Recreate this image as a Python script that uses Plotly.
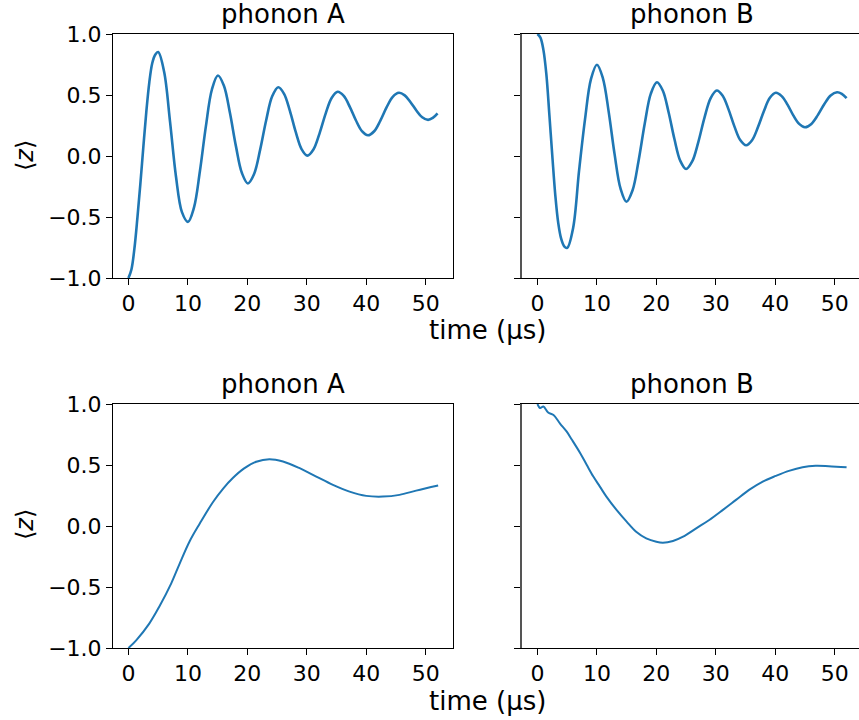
import plotly.graph_objects as go

# ---- data ----
t_top_A = [0, 0.5, 1, 1.5, 2, 2.5, 3, 3.5, 4, 4.5, 5,
           6, 7, 8, 9, 10,
           11.01, 12.02, 13.03, 14.04, 15.05,
           16.06, 17.07, 18.08, 19.09, 20.1,
           21.12, 22.14, 23.16, 24.18, 25.2,
           26.18, 27.16, 28.14, 29.12, 30.1,
           31.12, 32.14, 33.16, 34.18, 35.2,
           36.22, 37.24, 38.26, 39.28, 40.3,
           41.34, 42.38, 43.42, 44.46, 45.5,
           46.48, 47.46, 48.44, 49.42, 50.4,
           51.2, 52.0]
z_top_A = [-1.0, -0.93, -0.76, -0.51, -0.23, 0.07, 0.36, 0.60, 0.76, 0.83, 0.852,
           0.69, 0.28, -0.17, -0.46, -0.54,
           -0.425, -0.125, 0.245, 0.545, 0.660,
           0.576, 0.354, 0.081, -0.140, -0.225,
           -0.150, 0.048, 0.291, 0.489, 0.564,
           0.510, 0.370, 0.197, 0.057, 0.003,
           0.053, 0.184, 0.345, 0.476, 0.526,
           0.492, 0.403, 0.293, 0.204, 0.170,
           0.203, 0.290, 0.398, 0.485, 0.518,
           0.497, 0.441, 0.373, 0.317, 0.296,
           0.312, 0.350]

t_top_B = [0, 0.5, 1, 1.5, 2, 2.5, 3, 3.5, 4, 4.5, 5,
           6, 7, 8, 9, 10,
           10.99, 11.99, 12.98, 13.98, 14.97,
           16.0, 17.02, 18.05, 19.07, 20.1,
           21.08, 22.06, 23.04, 24.02, 25.0,
           26.03, 27.07, 28.1, 29.14, 30.17,
           31.16, 32.14, 33.13, 34.11, 35.1,
           36.1, 37.1, 38.1, 39.1, 40.1,
           41.08, 42.06, 43.04, 44.02, 45.0,
           46.08, 47.16, 48.24, 49.32, 50.4,
           51.2, 52.0]
z_top_B = [1.0, 0.97, 0.87, 0.67, 0.34, 0.0, -0.32, -0.55, -0.68, -0.74, -0.753,
           -0.59, -0.12, 0.30, 0.63, 0.748,
           0.641, 0.360, 0.013, -0.268, -0.375,
           -0.281, -0.036, 0.266, 0.511, 0.605,
           0.537, 0.359, 0.139, -0.039, -0.107,
           -0.045, 0.116, 0.315, 0.475, 0.537,
           0.494, 0.382, 0.243, 0.131, 0.088,
           0.129, 0.237, 0.369, 0.477, 0.518,
           0.491, 0.421, 0.333, 0.263, 0.236,
           0.263, 0.335, 0.424, 0.496, 0.523,
           0.510, 0.474]

t_bot_A = [0, 1.3, 3.5, 5.2, 7.2, 8.6, 10.3, 12.0, 14.2, 15.9, 17.6, 19.4,
           21.5, 23.7, 26.0, 28.8, 31.6, 34.4, 37.2, 40.0, 42.8, 45.6, 48.4, 52.1]
z_bot_A = [-1.0, -0.937, -0.80, -0.66, -0.47, -0.31, -0.125, 0.02, 0.195, 0.305, 0.395, 0.47,
           0.527, 0.548, 0.529, 0.474, 0.405, 0.337, 0.282, 0.247, 0.241, 0.255, 0.290, 0.332]

t_bot_B = [0, 0.45, 1.0, 1.8, 2.7, 3.8, 4.9, 5.8, 7.2, 8.3, 9.4, 10.5, 11.6, 13.3,
           15.0, 16.6, 18.3, 20.0, 21.1, 22.8, 24.5, 26.7, 28.9, 31.2, 33.4, 35.6,
           37.9, 40.1, 42.3, 44.6, 46.8, 49.0, 52.0]
z_bot_B = [1.0, 0.967, 0.98, 0.93, 0.91, 0.84, 0.775, 0.707, 0.597, 0.50, 0.405, 0.323,
           0.241, 0.132, 0.036, -0.047, -0.101, -0.129, -0.137, -0.123, -0.088, -0.019,
           0.049, 0.132, 0.214, 0.296, 0.364, 0.411, 0.452, 0.482, 0.493, 0.490, 0.482]

x_ticks = [0, 10, 20, 30, 40, 50]
x_tick_text = ["0", "10", "20", "30", "40", "50"]
y_ticks = [-1.0, -0.5, 0.0, 0.5, 1.0]
y_tick_text = ["\u22121.0", "\u22120.5", "0.0", "0.5", "1.0"]
titles = ["phonon A", "phonon B", "phonon A", "phonon B"]
x_label = "time (\u00b5s)"
y_label = "\u27e8<i>z</i>\u27e9"

# ---- figure ----
W, H = 859, 720
BLUE = "#1f77b4"
FONT = "DejaVu Sans"

fig = go.Figure()
series = [(t_top_A, z_top_A, "x", "y", 2.6), (t_top_B, z_top_B, "x2", "y2", 2.6),
          (t_bot_A, z_bot_A, "x3", "y3", 2.0), (t_bot_B, z_bot_B, "x4", "y4", 2.0)]
for tt, zz, xa, ya, lw in series:
    fig.add_trace(go.Scatter(x=tt, y=zz, xaxis=xa, yaxis=ya, mode="lines",
                             line=dict(color=BLUE, width=lw, shape="spline", smoothing=1.0),
                             showlegend=False, hoverinfo="skip"))

def px_x(p):
    return p / W

def px_y(p):
    return 1 - p / H

col_dom = [[px_x(113), px_x(453)], [px_x(522), 1.0]]
col_rng = [[-2.6, 54.6], [-2.6, 54.09]]
row_dom = [[px_y(278), px_y(34)], [px_y(648), px_y(404)]]

layout = dict(width=W, height=H, template="none",
              margin=dict(l=0, r=0, t=0, b=0, pad=0, autoexpand=False),
              paper_bgcolor="white", plot_bgcolor="white",
              font=dict(family=FONT, size=22, color="black"), annotations=[])

for i in range(4):
    r, c = divmod(i, 2)
    sfx = "" if i == 0 else str(i + 1)
    xa = dict(domain=col_dom[c], range=col_rng[c], anchor="y" + sfx, automargin=False,
              tickvals=x_ticks, ticktext=x_tick_text, ticks="outside", ticklen=6,
              tickwidth=1.1, tickcolor="black", showline=True, linecolor="black",
              linewidth=1.1, mirror=True, showgrid=False, zeroline=False,
              tickfont=dict(family=FONT, size=22, color="black"))
    ya = dict(domain=row_dom[r], range=[-1, 1], anchor="x" + sfx, automargin=False,
              tickvals=y_ticks, ticktext=y_tick_text, ticks="outside", ticklen=6,
              tickwidth=1.1, tickcolor="black", showline=True,
              linecolor="black" if c == 0 else "#555555",
              linewidth=1.1 if c == 0 else 2.0,
              mirror=(c == 0), showgrid=False, zeroline=False,
              showticklabels=(c == 0),
              tickfont=dict(family=FONT, size=22, color="black"))
    layout["xaxis" + sfx] = xa
    layout["yaxis" + sfx] = ya
    # subplot title
    cx = (col_dom[c][0] + (px_x(862) if c == 1 else col_dom[c][1])) / 2
    layout["annotations"].append(dict(text=titles[i], x=cx, y=row_dom[r][1] + 3 / H,
                                      xref="paper", yref="paper", xanchor="center",
                                      yanchor="bottom", showarrow=False,
                                      font=dict(family=FONT, size=26, color="black")))

# shared labels
for r, (ly, cy) in enumerate([(330, 156), (700.5, 525)]):
    layout["annotations"].append(dict(text=x_label, x=px_x(487), y=px_y(ly),
                                      xref="paper", yref="paper", xanchor="center",
                                      yanchor="middle", showarrow=False,
                                      font=dict(family=FONT, size=26, color="black")))
    layout["annotations"].append(dict(text=y_label, x=px_x(25), y=px_y(cy),
                                      xref="paper", yref="paper", xanchor="center",
                                      yanchor="middle", textangle=-90, showarrow=False,
                                      font=dict(family=FONT, size=24, color="black")))

fig.update_layout(**layout)
fig.write_html("out.html", config={"displayModeBar": False},
               post_script="document.body.style.margin='0px';document.body.style.overflow='hidden';")
